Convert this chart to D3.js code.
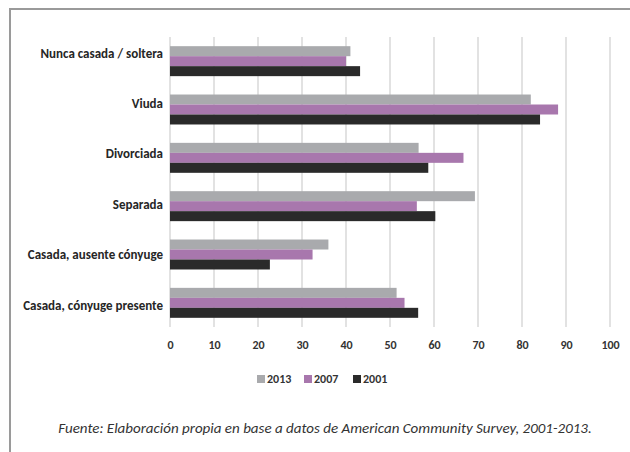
<!DOCTYPE html>
<html>
<head>
<meta charset="utf-8">
<script src="https://cdn.jsdelivr.net/npm/d3@7"></script>
<style>
  html, body { margin: 0; padding: 0; background: #fff; }
  svg { display: block; }
  text { font-family: Carlito, Lato, "Noto Sans", sans-serif; }
</style>
</head>
<body>
<svg id="chart" width="630" height="452"></svg>
<script>
// Marital status categories, top to bottom
const categories = [
  "Nunca casada / soltera",
  "Viuda",
  "Divorciada",
  "Separada",
  "Casada, ausente cónyuge",
  "Casada, cónyuge presente"
];

// Series per survey year, in category order
const years = ["2013", "2007", "2001"];
const values2013 = [41, 82, 56.5, 69.3, 36, 51.5];
const values2007 = [40, 88.2, 66.7, 56.1, 32.4, 53.3];
const values2001 = [43.2, 84.1, 58.7, 60.3, 22.7, 56.4];
const seriesColors = ["#a9aaad", "#a877ad", "#2a2a2a"];

const xTicks = [0, 10, 20, 30, 40, 50, 60, 70, 80, 90, 100];
const sourceNote = "Fuente: Elaboración propia en base a datos de American Community Survey, 2001-2013.";

const series = [values2013, values2007, values2001];

const svg = d3.select("#chart");

// Outer frame
svg.append("rect")
  .attr("x", 10).attr("y", 9)
  .attr("width", 640).attr("height", 470)
  .attr("fill", "none")
  .attr("stroke", "#9a9a9a")
  .attr("stroke-width", 2);

const plot = { left: 170, right: 610, top: 37, bottom: 327 };

const x = d3.scaleLinear().domain([0, 100]).range([plot.left, plot.right]);
const y = d3.scaleBand().domain(categories).range([plot.top, plot.bottom])
  .paddingInner(0.38).paddingOuter(0.19);
const ySub = d3.scaleBand().domain(years).range([0, y.bandwidth()]);
// Category labels sit on their own evenly spaced rows
const yLabel = d3.scalePoint().domain(categories).range([53, 305]);

// Vertical gridlines
svg.append("g")
  .selectAll("line")
  .data(xTicks)
  .join("line")
  .attr("x1", d => x(d)).attr("x2", d => x(d))
  .attr("y1", plot.top).attr("y2", plot.bottom)
  .attr("stroke", "#d9d9d9")
  .attr("stroke-width", 1.5);

// Bars
const groups = svg.append("g")
  .selectAll("g")
  .data(categories)
  .join("g")
  .attr("transform", d => `translate(0,${y(d)})`);

groups.selectAll("rect")
  .data((c, i) => years.map((yr, k) => ({ yr, k, v: series[k][i] })))
  .join("rect")
  .attr("x", x(0))
  .attr("y", d => ySub(d.yr))
  .attr("width", d => x(d.v) - x(0))
  .attr("height", ySub.bandwidth())
  .attr("fill", d => seriesColors[d.k]);

// Category labels
svg.append("g")
  .selectAll("text")
  .data(categories)
  .join("text")
  .attr("x", plot.left - 7)
  .attr("y", d => yLabel(d))
  .attr("dy", "0.35em")
  .attr("text-anchor", "end")
  .attr("font-size", 13)
  .attr("font-weight", 600)
  .attr("fill", "#262626")
  .text(d => d);

// Bottom axis labels
const xAxis = d3.axisBottom(x).tickValues(xTicks).tickSize(0).tickPadding(0);
const axisG = svg.append("g")
  .attr("transform", `translate(0,${plot.bottom})`)
  .call(xAxis);
axisG.select(".domain").remove();
axisG.selectAll("text")
  .attr("y", 18)
  .attr("dy", "0.35em")
  .attr("font-size", 12)
  .attr("font-weight", 600)
  .attr("fill", "#333")
  .style("font-family", "Carlito, Lato, 'Noto Sans', sans-serif");

// Legend
const legendX = [257, 304, 353];
const legend = svg.append("g")
  .selectAll("g")
  .data(years)
  .join("g")
  .attr("transform", (d, i) => `translate(${legendX[i]},375)`);
legend.append("rect")
  .attr("width", 8).attr("height", 8)
  .attr("fill", (d, i) => seriesColors[i]);
legend.append("text")
  .attr("x", 10).attr("y", 4)
  .attr("dy", "0.35em")
  .attr("font-size", 12)
  .attr("font-weight", 600)
  .attr("fill", "#333")
  .text(d => d);

// Source note
svg.append("text")
  .attr("x", 325).attr("y", 428)
  .attr("dy", "0.35em")
  .attr("text-anchor", "middle")
  .attr("font-size", 15)
  .attr("font-style", "italic")
  .attr("fill", "#333")
  .text(sourceNote);
</script>
</body>
</html>
